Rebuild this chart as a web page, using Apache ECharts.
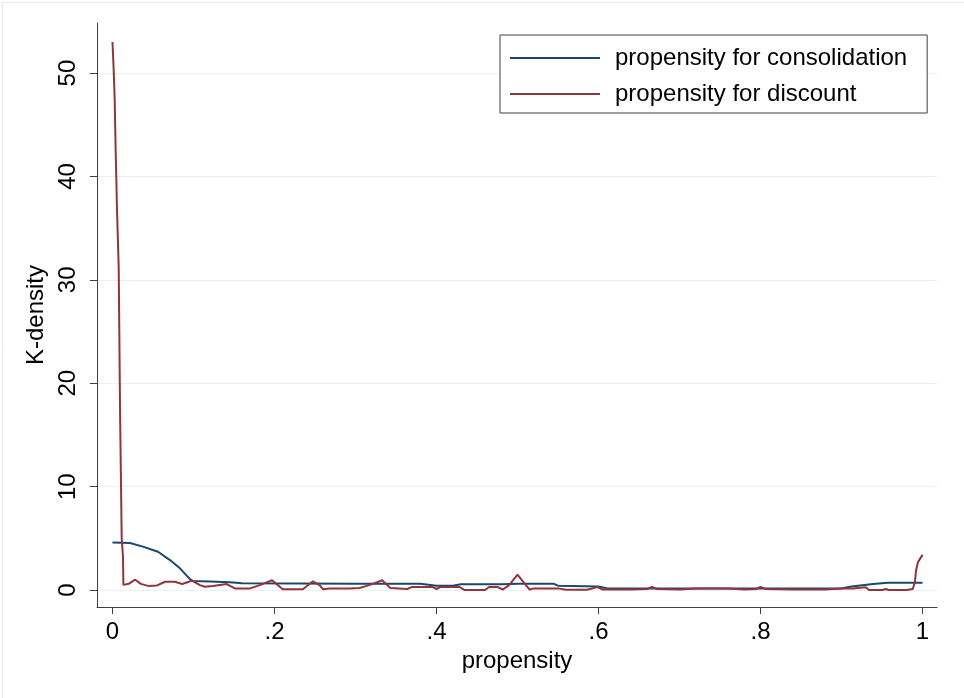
<!DOCTYPE html>
<html>
<head>
<meta charset="utf-8">
<script src="https://cdn.jsdelivr.net/npm/echarts@6/dist/echarts.min.js"></script>
<style>html,body{margin:0;padding:0;background:#fff}#c{width:964px;height:698px}</style>
</head>
<body>
<div id="c"></div>
<script>
const seriesNames = ['propensity for consolidation', 'propensity for discount'];
const xTicks = [0, 0.2, 0.4, 0.6, 0.8, 1];
const xTickLabels = ['0', '.2', '.4', '.6', '.8', '1'];
const yTicks = [0, 10, 20, 30, 40, 50];

const consolidation = [
  [0, 4.6], [0.0216, 4.55], [0.0376, 4.2], [0.0562, 3.7], [0.071, 2.9], [0.0833, 2.1],
  [0.0957, 1.05], [0.0994, 0.87], [0.12, 0.82], [0.145, 0.75], [0.16, 0.65], [0.3, 0.6],
  [0.38, 0.6], [0.4, 0.42], [0.42, 0.42], [0.43, 0.55], [0.48, 0.55], [0.5, 0.6],
  [0.545, 0.6], [0.55, 0.42], [0.6, 0.35], [0.61, 0.18], [0.65, 0.15], [0.9, 0.15],
  [0.9105, 0.32], [0.923, 0.45], [0.939, 0.58], [0.957, 0.7], [1.0, 0.7]
];

const discount = [
  [0, 53], [0.0015, 50.3], [0.0027, 47.6], [0.004, 42.3], [0.0056, 36.8], [0.0077, 31.2],
  [0.0093, 17.7], [0.0114, 5.0], [0.013, 3.2], [0.0135, 0.5],
  [0.02, 0.6], [0.028, 1.0], [0.035, 0.6], [0.044, 0.4], [0.055, 0.45], [0.065, 0.8],
  [0.077, 0.8], [0.086, 0.58], [0.098, 0.9], [0.108, 0.48], [0.114, 0.32], [0.124, 0.4],
  [0.141, 0.58], [0.151, 0.16], [0.17, 0.16], [0.182, 0.48], [0.197, 0.95], [0.204, 0.48],
  [0.21, 0.07], [0.235, 0.07], [0.2475, 0.85], [0.256, 0.45], [0.26, 0.07], [0.268, 0.16],
  [0.293, 0.16], [0.305, 0.2], [0.318, 0.5], [0.333, 0.95], [0.343, 0.2], [0.364, 0.1],
  [0.37, 0.3], [0.395, 0.3], [0.4, 0.1], [0.405, 0.3], [0.428, 0.3], [0.435, 0.0],
  [0.46, 0.0], [0.465, 0.3], [0.475, 0.3], [0.482, 0.05], [0.49, 0.5], [0.5, 1.5],
  [0.51, 0.5], [0.515, 0.05], [0.52, 0.16], [0.55, 0.16], [0.56, 0.02], [0.585, 0.02],
  [0.59, 0.1], [0.598, 0.3], [0.605, 0.05], [0.64, 0.05], [0.66, 0.1], [0.666, 0.3],
  [0.672, 0.1], [0.7, 0.05], [0.72, 0.15], [0.76, 0.15], [0.78, 0.05], [0.795, 0.1],
  [0.8, 0.3], [0.806, 0.1], [0.84, 0.05], [0.88, 0.05], [0.9, 0.15], [0.915, 0.15],
  [0.92, 0.2], [0.93, 0.26], [0.934, 0.0], [0.95, 0.0], [0.955, 0.1], [0.958, 0.0],
  [0.98, 0.0], [0.988, 0.1], [0.9907, 0.8], [0.992, 1.9], [0.9944, 2.7], [1.0, 3.4]
];

const FONT = '"Liberation Sans", Arial, sans-serif';
const chart = echarts.init(document.getElementById('c'), null, {renderer: 'canvas'});
chart.setOption({
  animation: false,
  backgroundColor: '#ffffff',
  graphic: [{
    type: 'rect', left: 0, top: 0, z: -10,
    shape: {x: 0.5, y: 0.5, width: 963, height: 697},
    style: {fill: 'none', stroke: '#e3e9ec', lineWidth: 1}
  }],
  grid: {left: 97, right: 27, top: 23, bottom: 91, containLabel: false},
  legend: {
    left: 500, top: 35, orient: 'vertical',
    data: seriesNames.map(n => ({name: n, icon: 'rect'})),
    itemWidth: 90, itemHeight: 2, itemGap: 12,
    padding: [11, 20, 7, 10],
    backgroundColor: '#fff', borderColor: '#404040', borderWidth: 1,
    textStyle: {fontFamily: FONT, fontSize: 24, color: '#000', padding: [0, 0, 0, 10], lineHeight: 24},
    selectedMode: false
  },
  xAxis: {
    type: 'value', min: -0.0191, max: 1.0179,
    name: 'propensity', nameLocation: 'middle', nameGap: 38,
    nameTextStyle: {fontFamily: FONT, fontSize: 24, color: '#000'},
    axisLine: {show: true, onZero: false, lineStyle: {color: '#404040', width: 1}},
    axisTick: {show: true, length: 7, customValues: xTicks, lineStyle: {color: '#404040'}},
    axisLabel: {customValues: xTicks, formatter: v => xTickLabels[xTicks.indexOf(Math.round(v * 10) / 10)] ?? '',
      fontFamily: FONT, fontSize: 24, color: '#000', margin: 13},
    splitLine: {show: false}
  },
  yAxis: {
    type: 'value', min: -1.64, max: 54.84,
    name: 'K-density', nameLocation: 'middle', nameGap: 43,
    nameTextStyle: {fontFamily: FONT, fontSize: 24, color: '#000'},
    axisLine: {show: true, onZero: false, lineStyle: {color: '#404040', width: 1}},
    axisTick: {show: true, length: 7, customValues: yTicks, lineStyle: {color: '#404040'}},
    axisLabel: {customValues: yTicks, rotate: 90, fontFamily: FONT, fontSize: 24, color: '#000', margin: 17},
    splitLine: {show: true, lineStyle: {color: '#e8f0f2', width: 1}}
  },
  series: [
    {name: seriesNames[0], type: 'line', data: consolidation, showSymbol: false, symbol: 'none',
      lineStyle: {color: '#1a476f', width: 2}, itemStyle: {color: '#1a476f'}, z: 3},
    {name: seriesNames[1], type: 'line', data: discount, showSymbol: false, symbol: 'none',
      lineStyle: {color: '#90353b', width: 2}, itemStyle: {color: '#90353b'}, z: 4}
  ]
});
</script>
</body>
</html>
